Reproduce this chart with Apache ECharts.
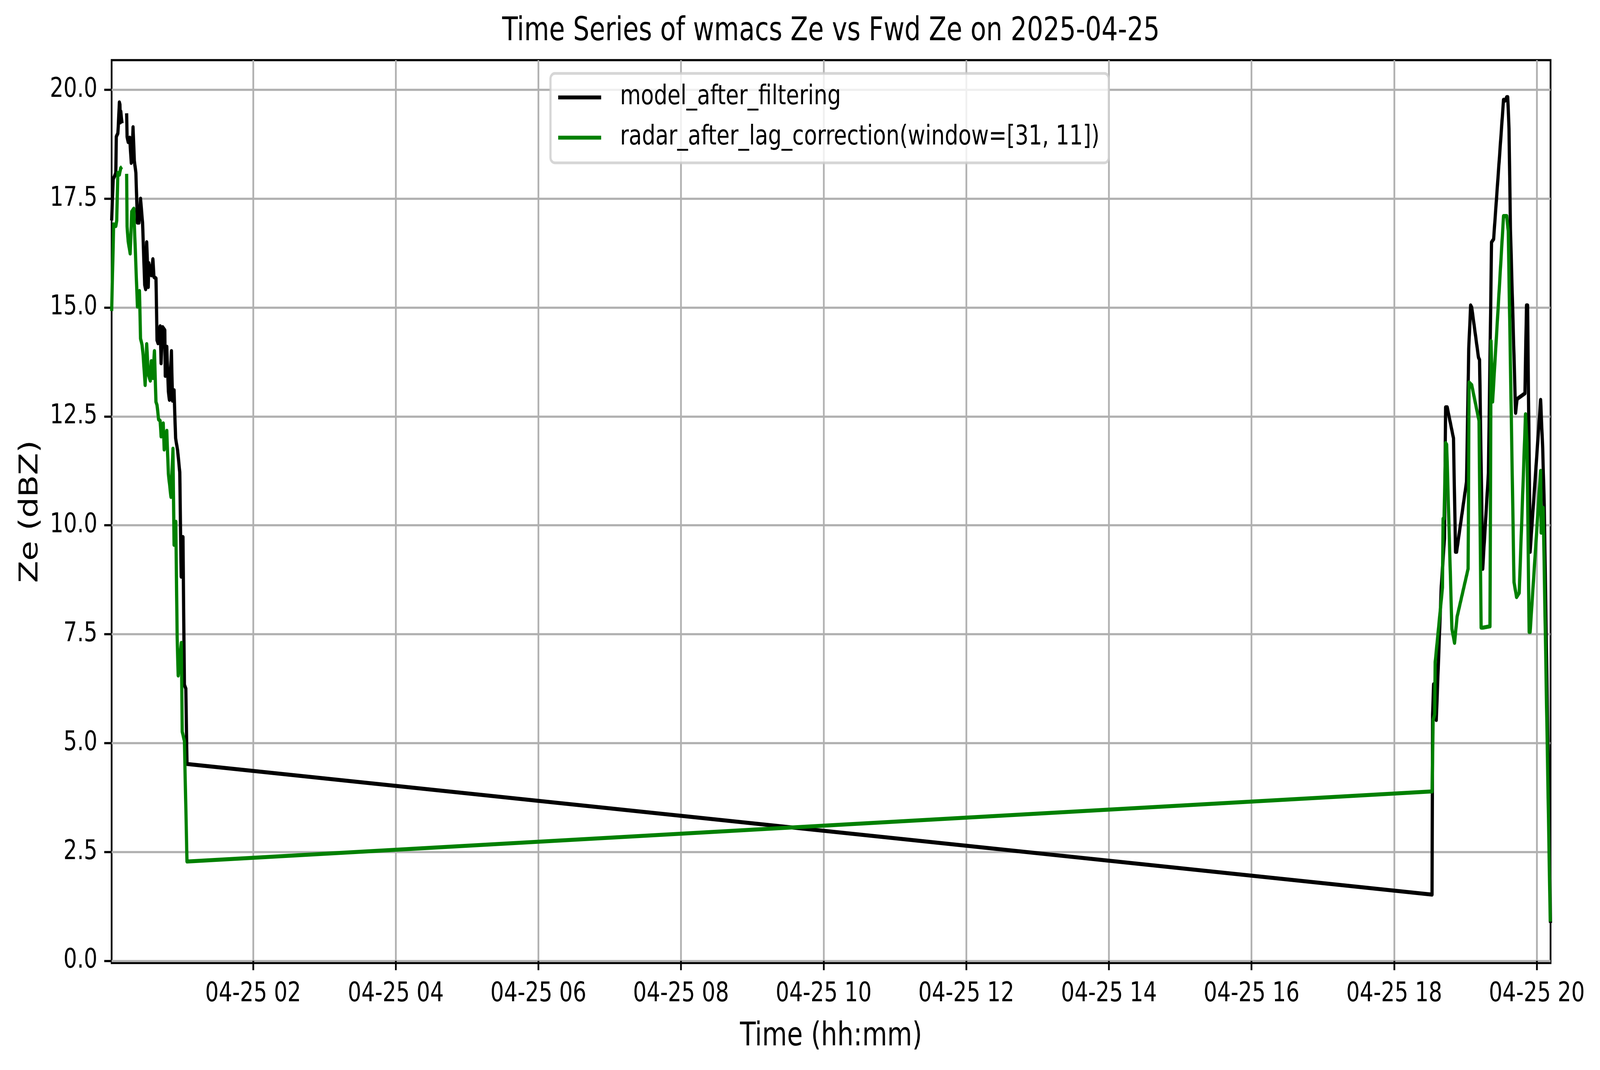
<!DOCTYPE html>
<html>
<head>
<meta charset="utf-8">
<title>Time Series of wmacs Ze vs Fwd Ze on 2025-04-25</title>
<script src="https://cdn.jsdelivr.net/npm/echarts@6/dist/echarts.min.js"></script>
<style>
  html, body { margin: 0; padding: 0; background: #ffffff; overflow: hidden; }
  #grafica { width: 5174px; height: 2740px; transform-origin: 0 0; }
</style>
</head>
<body>
<div id="grafica"></div>
<script>
// hours after 00:00 on 2025-04-25, null = missing sample (line breaks there)
const modelHours = [
  0.0167, 0.0383, 0.0533, 0.075, 0.0817, 0.1033, 0.11, 0.125, 0.1333, 0.1383, 0.145, 0.1617,
  0.1917,
  0.2267, 0.2333, 0.2483, 0.27, 0.2917, 0.2983, 0.3167, 0.335, 0.3567, 0.3783, 0.4, 0.4217,
  0.45, 0.465, 0.48, 0.4933, 0.5083, 0.53, 0.5367, 0.5733, 0.595, 0.61, 0.6383, 0.6533,
  0.6667, 0.6967, 0.71, 0.7317, 0.7617, 0.7683, 0.79, 0.8117, 0.8267, 0.855, 0.87, 0.8917,
  0.9133, 0.9417, 0.9717, 0.9917, 1.0167, 1.0367, 1.0567, 1.0733,
  18.531, 18.538, 18.553, 18.59, 18.66, 18.705, 18.721, 18.743, 18.831, 18.86, 18.875,
  19.014, 19.045, 19.072, 19.087, 19.182, 19.197, 19.241, 19.248, 19.321, 19.365, 19.394,
  19.533, 19.555, 19.577, 19.592, 19.61, 19.63, 19.702, 19.723, 19.833, 19.855, 19.87,
  19.906, 19.914, 20.053, 20.082, 20.104, 20.192
];
const modelZe = [
  17.0, 17.95, 18.0, 18.09, 18.92, 19.0, 19.16, 19.71, 19.66, 19.25, 19.5, 19.23,
  null,
  19.46, 18.92, 18.8, 18.9, 18.32, 18.35, 19.14, 18.37, 18.09, 16.95, 16.95, 17.5,
  16.95, 16.24, 15.52, 15.42, 16.5, 15.47, 16.02, 15.74, 16.11, 15.7, 15.67, 14.25,
  14.18, 14.57, 13.72, 14.55, 14.48, 13.43, 14.1, 13.08, 12.88, 14.0, 12.86, 13.1,
  12.0, 11.72, 11.22, 8.82, 9.73, 6.34, 6.25, 4.52,
  1.52, 5.66, 6.35, 5.53, 8.6, 9.7, 12.71, 12.71, 12.0, 9.39, 9.39,
  11.0, 14.05, 15.05, 15.0, 13.85, 13.8, 9.0, 9.0, 11.2, 16.5, 16.57,
  19.77, 19.75, 19.83, 19.83, 19.1, 16.8, 12.58, 12.9, 13.03, 15.05, 15.05,
  9.39, 9.39, 12.88, 11.77, 10.46, 0.87
];

const radarHours = [
  0.0167, 0.045, 0.075, 0.0883, 0.1033, 0.125, 0.1433, 0.1617,
  0.1917,
  0.2267, 0.2333, 0.2483, 0.2767, 0.2983, 0.3267, 0.3783, 0.4067, 0.4217, 0.4433, 0.4583,
  0.4867, 0.5083, 0.53, 0.5583, 0.5733, 0.595, 0.6167, 0.6383, 0.6533, 0.675, 0.6967,
  0.71, 0.74, 0.7533, 0.79, 0.8117, 0.8483, 0.8767, 0.8917, 0.9167, 0.935, 0.95,
  0.9933, 1.0067, 1.0367, 1.0733,
  18.531, 18.546, 18.568, 18.575, 18.677, 18.685, 18.699, 18.721, 18.736, 18.809, 18.846,
  18.882, 19.036, 19.05, 19.087, 19.189, 19.219, 19.248, 19.343, 19.358, 19.38,
  19.533, 19.577, 19.599, 19.68, 19.716, 19.753, 19.841, 19.862, 19.892, 19.906,
  20.053, 20.06, 20.089, 20.188
];
const radarZe = [
  14.92, 16.91, 16.87, 17.0, 18.09, 18.05, 18.2, 18.23,
  null,
  18.07, 16.86, 16.52, 16.24, 17.2, 17.27, 15.02, 15.38, 14.29, 14.14, 13.9,
  13.22, 14.16, 13.47, 13.32, 13.77, 13.38, 14.0, 12.83, 12.76, 12.43, 12.4,
  12.04, 12.34, 11.74, 12.17, 11.19, 10.65, 11.76, 9.55, 10.08, 7.43, 6.55,
  7.3, 5.26, 5.05, 2.28,
  3.89, 5.53, 5.66, 6.86, 8.57, 10.15, 10.15, 11.89, 11.85, 7.62, 7.3,
  7.9, 9.0, 13.28, 13.22, 12.4, 7.65, 7.65, 7.68, 14.23, 12.84,
  17.1, 17.1, 16.76, 8.69, 8.35, 8.45, 12.55, 11.9, 7.55, 7.55,
  11.25, 9.83, 10.4, 0.9
];

const hourTicks = [2, 4, 6, 8, 10, 12, 14, 16, 18, 20];
const zeTicks = [0, 2.5, 5, 7.5, 10, 12.5, 15, 17.5, 20];
const yMin = -0.05;
const yMax = 20.68;

const modelName = 'model_after_filtering';
const radarName = 'radar_after_lag_correction(window=[31, 11])';
const chartTitle = 'Time Series of wmacs Ze vs Fwd Ze on 2025-04-25';

function pares(horas, valores) {
  return horas.map(function (h, i) {
    return [h, valores[i] === null ? '-' : valores[i]];
  });
}

var dom = document.getElementById('grafica');
// the chart is drawn on a 5174x2740 box, then fitted to whatever the window really is
function ajustar() {
  var sx = window.innerWidth / 5174;
  var sy = window.innerHeight / 2740;
  dom.style.transform = 'scale(' + sx + ',' + sy + ')';
}
ajustar();

var myChart = echarts.init(dom, null, { renderer: 'canvas' });

var fuente = 'DejaVu Sans';
var option;

option = {
  animation: false,
  backgroundColor: '#ffffff',
  textStyle: { fontFamily: fuente, color: '#000000' },
  title: {
    text: chartTitle,
    left: 2687,
    top: 40,
    padding: 0,
    textAlign: 'center',
    textStyle: { fontFamily: fuente, fontSize: 83, fontWeight: 'normal', color: '#000000' }
  },
  legend: {
    orient: 'vertical',
    left: 1780,
    top: 188,
    padding: [27, 30, 30, 25],
    itemGap: 34,
    itemWidth: 139,
    itemHeight: 10,
    icon: 'rect',
    backgroundColor: 'rgba(255,255,255,0.8)',
    borderColor: 'rgba(204,204,204,0.8)',
    borderWidth: 7,
    borderRadius: 14,
    textStyle: {
      fontFamily: fuente,
      fontSize: 69,
      lineHeight: 69,
      color: '#000000',
      padding: [0, 0, 0, 56]
    },
    data: [modelName, radarName]
  },
  grid: {
    left: 361,
    right: 160,
    top: 154,
    bottom: 274,
    show: true,
    borderColor: '#000000',
    borderWidth: 5.6,
    backgroundColor: 'transparent'
  },
  xAxis: {
    type: 'value',
    min: modelHours[0],
    max: modelHours[modelHours.length - 1],
    name: 'Time (hh:mm)',
    nameLocation: 'middle',
    nameGap: 148,
    nameTextStyle: { fontFamily: fuente, fontSize: 83, color: '#000000' },
    axisLine: { show: false },
    axisTick: {
      show: true,
      length: 24,
      customValues: hourTicks,
      lineStyle: { color: '#000000', width: 5.6 }
    },
    axisLabel: {
      customValues: hourTicks,
      margin: 46,
      fontFamily: fuente,
      fontSize: 69,
      color: '#000000',
      formatter: function (v) {
        return '04-25 ' + String(Math.round(v)).padStart(2, '0');
      }
    },
    splitLine: { show: true, lineStyle: { color: '#b0b0b0', width: 5.6 } }
  },
  yAxis: {
    type: 'value',
    min: yMin,
    max: yMax,
    name: 'Ze (dBZ)',
    nameLocation: 'middle',
    nameGap: 220,
    nameTextStyle: { fontFamily: fuente, fontSize: 83, color: '#000000' },
    axisLine: { show: false },
    axisTick: {
      show: true,
      length: 24,
      customValues: zeTicks,
      lineStyle: { color: '#000000', width: 5.6 }
    },
    axisLabel: {
      customValues: zeTicks,
      margin: 46,
      fontFamily: fuente,
      fontSize: 69,
      color: '#000000',
      formatter: function (v) { return v.toFixed(1); }
    },
    splitLine: { show: true, lineStyle: { color: '#b0b0b0', width: 5.6 } }
  },
  series: [
    {
      name: modelName,
      type: 'line',
      data: pares(modelHours, modelZe),
      showSymbol: false,
      symbol: 'none',
      connectNulls: false,
      clip: true,
      color: '#000000',
      lineStyle: { color: '#000000', width: 10.4, join: 'round', cap: 'butt' },
      z: 3
    },
    {
      name: radarName,
      type: 'line',
      data: pares(radarHours, radarZe),
      showSymbol: false,
      symbol: 'none',
      connectNulls: false,
      clip: true,
      color: '#008000',
      lineStyle: { color: '#008000', width: 10.4, join: 'round', cap: 'butt' },
      z: 4
    }
  ]
};

if (option && typeof option === 'object') {
  myChart.setOption(option);
}

window.addEventListener('resize', ajustar);
</script>
</body>
</html>
